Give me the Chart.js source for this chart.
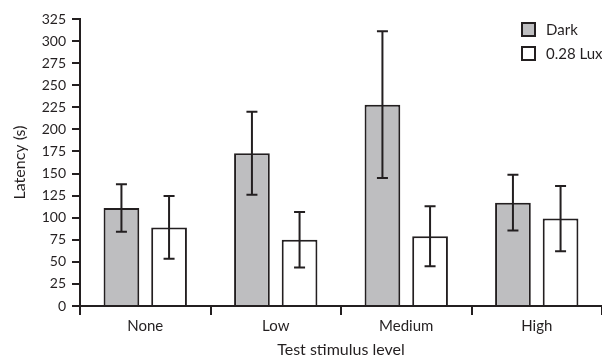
<!DOCTYPE html>
<html><head><meta charset="utf-8">
<script src="https://cdn.jsdelivr.net/npm/chart.js@4/dist/chart.umd.min.js"></script>
<style>html,body{margin:0;padding:0;background:#fff}#wrap{width:602px;height:358px}</style>
</head><body><div id="wrap"><canvas id="c" width="602" height="358"></canvas></div>
<script>
const categories = ['None', 'Low', 'Medium', 'High'];
const seriesNames = ['Dark', '0.28 Lux'];
const darkMeans = [111, 173, 228, 117];
const darkErrors = [27, 47, 83, 31.5];
const luxMeans = [89, 75, 79, 99];
const luxErrors = [35.5, 31.5, 34, 37];
const yTicks = [0, 25, 50, 75, 100, 125, 150, 175, 200, 225, 250, 275, 300, 325];

const INK = '#231f20';
const FONT = 'Lato, "Open Sans", sans-serif';

const errorBars = {
  id: 'errorBars',
  afterDatasetsDraw(chart) {
    const ctx = chart.ctx, y = chart.scales.y;
    ctx.save();
    ctx.strokeStyle = INK; ctx.lineWidth = 2;
    chart.data.datasets.forEach((ds, i) => {
      const meta = chart.getDatasetMeta(i);
      meta.data.forEach((bar, j) => {
        const m = ds.data[j], e = ds.errors[j];
        const yt = y.getPixelForValue(m + e), yb = y.getPixelForValue(m - e);
        const x = bar.x, cw = 5.5;
        ctx.beginPath();
        ctx.moveTo(x, yt); ctx.lineTo(x, yb);
        ctx.moveTo(x - cw, yt); ctx.lineTo(x + cw, yt);
        ctx.moveTo(x - cw, yb); ctx.lineTo(x + cw, yb);
        ctx.stroke();
      });
    });
    ctx.restore();
  }
};

const customLegend = {
  id: 'customLegend',
  afterDraw(chart) {
    const ctx = chart.ctx;
    ctx.save();
    ctx.font = '15px ' + FONT;
    ctx.textBaseline = 'middle';
    chart.data.datasets.forEach((ds, i) => {
      const cy = 29.5 + i * 24;
      ctx.fillStyle = ds.backgroundColor;
      ctx.fillRect(522, cy - 6.5, 13, 13);
      ctx.strokeStyle = INK; ctx.lineWidth = 2;
      ctx.strokeRect(522, cy - 6.5, 13, 13);
      ctx.fillStyle = INK;
      ctx.fillText(ds.label, 546, cy + 0.5);
    });
    ctx.restore();
  }
};

new Chart(document.getElementById('c'), {
  type: 'bar',
  data: {
    labels: categories,
    datasets: [
      { label: seriesNames[0], data: darkMeans, errors: darkErrors, backgroundColor: '#bebec0', borderColor: INK, borderWidth: 2, borderSkipped: 'start' },
      { label: seriesNames[1], data: luxMeans, errors: luxErrors, backgroundColor: '#ffffff', borderColor: INK, borderWidth: 2, borderSkipped: 'start' }
    ]
  },
  options: {
    responsive: false,
    animation: false,
    devicePixelRatio: 1,
    layout: { padding: { top: 19, right: 0, left: 0, bottom: 0 } },
    datasets: { bar: { categoryPercentage: 0.73, barPercentage: 0.75 } },
    plugins: { legend: { display: false }, tooltip: { enabled: false } },
    scales: {
      x: {
        offset: true,
        grid: { offset: true, drawOnChartArea: false, drawTicks: true, tickLength: 9, color: INK, lineWidth: 2 },
        border: { display: true, color: INK, width: 2 },
        ticks: { color: INK, font: { family: FONT, size: 15 }, padding: 2 },
        title: { display: true, text: 'Test stimulus level', color: INK, font: { family: FONT, size: 16 }, padding: { top: 0, bottom: -1 } },
        afterFit(s) { s.height = 52; }
      },
      y: {
        min: 0, max: 325,
        afterBuildTicks(s) { s.ticks = yTicks.map(v => ({ value: v })); },
        grid: { drawOnChartArea: false, drawTicks: true, tickLength: 8, color: INK, lineWidth: 2 },
        border: { display: true, color: INK, width: 2 },
        ticks: { color: INK, font: { family: FONT, size: 14 }, padding: 6 },
        title: { display: true, text: 'Latency (s)', color: INK, font: { family: FONT, size: 16 }, padding: { top: 10, bottom: 4 } },
        afterFit(s) { s.width = 80; }
      }
    }
  },
  plugins: [errorBars, customLegend]
});
</script>
</body></html>
